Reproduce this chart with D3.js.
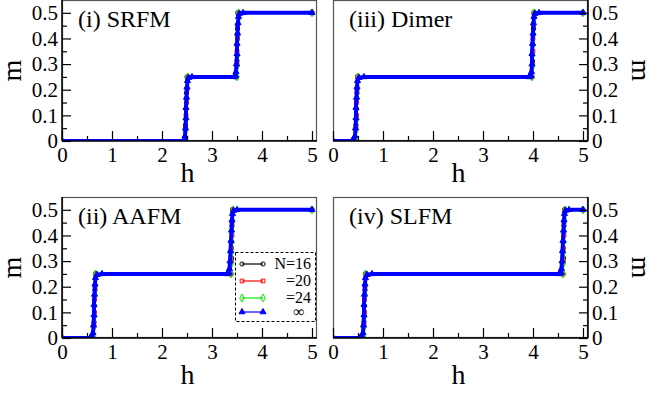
<!DOCTYPE html>
<html>
<head>
<meta charset="utf-8">
<script src="https://cdn.jsdelivr.net/npm/d3@7"></script>
<style>
  body { margin: 0; background: #fff; }
</style>
</head>
<body>
<div id="chart"></div>
<script>
// ---- data: [h, m] points ----
// (i) SRFM
const srfm16 = [[0,0],[2.46,0],[2.47,0.0625],[2.48,0.125],[2.49,0.1875],[2.5,0.25],[3.49,0.25],[3.5,0.3125],[3.5,0.375],[3.51,0.4375],[3.52,0.5],[5,0.5]];
const srfm20 = [[0,0],[2.46,0],[2.47,0.05],[2.48,0.1],[2.49,0.15],[2.5,0.2],[2.51,0.25],[3.49,0.25],[3.5,0.3],[3.5,0.35],[3.51,0.4],[3.51,0.45],[3.52,0.5],[5,0.5]];
const srfm24 = [[0,0],[2.47,0],[2.47,0.042],[2.48,0.083],[2.48,0.125],[2.49,0.167],[2.5,0.208],[2.51,0.25],[3.5,0.25],[3.5,0.292],[3.51,0.333],[3.51,0.375],[3.52,0.417],[3.52,0.458],[3.53,0.5],[5,0.5]];
const srfmInf = [[0,0],[2.42,0],[2.45,0.005],[2.46,0.02],[2.47,0.05],[2.48,0.09],[2.48,0.13],[2.49,0.17],[2.5,0.21],[2.51,0.235],[2.53,0.247],[2.6,0.25],[3.44,0.25],[3.47,0.255],[3.48,0.27],[3.49,0.3],[3.5,0.34],[3.5,0.38],[3.51,0.42],[3.52,0.46],[3.53,0.485],[3.55,0.497],[3.62,0.5],[5,0.5]];

// (iii) Dimer
const dimer16 = [[0,0],[0.45,0],[0.46,0.0625],[0.47,0.125],[0.48,0.1875],[0.49,0.25],[3.98,0.25],[3.99,0.3125],[4.0,0.375],[4.01,0.4375],[4.02,0.5],[5,0.5]];
const dimer20 = [[0,0],[0.45,0],[0.46,0.05],[0.47,0.1],[0.47,0.15],[0.48,0.2],[0.49,0.25],[3.98,0.25],[3.99,0.3],[4.0,0.35],[4.0,0.4],[4.01,0.45],[4.02,0.5],[5,0.5]];
const dimer24 = [[0,0],[0.46,0],[0.46,0.042],[0.47,0.083],[0.47,0.125],[0.48,0.167],[0.49,0.208],[0.5,0.25],[3.98,0.25],[3.99,0.292],[3.99,0.333],[4.0,0.375],[4.01,0.417],[4.01,0.458],[4.02,0.5],[5,0.5]];
const dimerInf = [[0,0],[0.38,0],[0.42,0.005],[0.44,0.02],[0.45,0.05],[0.46,0.09],[0.46,0.13],[0.47,0.17],[0.48,0.21],[0.49,0.235],[0.52,0.247],[0.62,0.25],[3.92,0.25],[3.96,0.255],[3.97,0.27],[3.98,0.3],[3.98,0.34],[3.99,0.38],[4.0,0.42],[4.01,0.46],[4.02,0.485],[4.04,0.497],[4.12,0.5],[5,0.5]];

// (ii) AAFM
const aafm16 = [[0,0],[0.63,0],[0.64,0.0625],[0.65,0.125],[0.66,0.1875],[0.67,0.25],[3.38,0.25],[3.39,0.3125],[3.39,0.375],[3.4,0.4375],[3.41,0.5],[5,0.5]];
const aafm20 = [[0,0],[0.63,0],[0.64,0.05],[0.65,0.1],[0.65,0.15],[0.66,0.2],[0.67,0.25],[3.38,0.25],[3.39,0.3],[3.39,0.35],[3.4,0.4],[3.4,0.45],[3.41,0.5],[5,0.5]];
const aafm24 = [[0,0],[0.64,0],[0.64,0.042],[0.65,0.083],[0.65,0.125],[0.66,0.167],[0.66,0.208],[0.67,0.25],[3.38,0.25],[3.39,0.292],[3.39,0.333],[3.4,0.375],[3.4,0.417],[3.41,0.458],[3.42,0.5],[5,0.5]];
const aafmInf = [[0,0],[0.56,0],[0.6,0.005],[0.62,0.02],[0.63,0.05],[0.64,0.09],[0.64,0.13],[0.65,0.17],[0.66,0.21],[0.67,0.235],[0.7,0.247],[0.8,0.25],[3.3,0.25],[3.34,0.255],[3.35,0.27],[3.36,0.3],[3.37,0.34],[3.38,0.38],[3.39,0.42],[3.4,0.46],[3.41,0.485],[3.43,0.497],[3.5,0.5],[5,0.5]];

// (iv) SLFM
const slfm16 = [[0,0],[0.61,0],[0.62,0.0625],[0.63,0.125],[0.64,0.1875],[0.65,0.25],[4.6,0.25],[4.61,0.3125],[4.61,0.375],[4.62,0.4375],[4.63,0.5],[5,0.5]];
const slfm20 = [[0,0],[0.61,0],[0.62,0.05],[0.63,0.1],[0.63,0.15],[0.64,0.2],[0.65,0.25],[4.6,0.25],[4.61,0.3],[4.61,0.35],[4.62,0.4],[4.62,0.45],[4.63,0.5],[5,0.5]];
const slfm24 = [[0,0],[0.62,0],[0.62,0.042],[0.63,0.083],[0.63,0.125],[0.64,0.167],[0.64,0.208],[0.65,0.25],[4.6,0.25],[4.61,0.292],[4.61,0.333],[4.62,0.375],[4.62,0.417],[4.63,0.458],[4.64,0.5],[5,0.5]];
const slfmInf = [[0,0],[0.54,0],[0.58,0.005],[0.6,0.02],[0.61,0.05],[0.62,0.09],[0.62,0.13],[0.63,0.17],[0.64,0.21],[0.65,0.235],[0.68,0.247],[0.78,0.25],[4.52,0.25],[4.56,0.255],[4.57,0.27],[4.58,0.3],[4.59,0.34],[4.6,0.38],[4.61,0.42],[4.62,0.46],[4.63,0.485],[4.65,0.497],[4.72,0.5],[5,0.5]];

const panelNames = ["(i) SRFM", "(iii) Dimer", "(ii) AAFM", "(iv) SLFM"];
const seriesLabels = ["N=16", "=20", "=24", "\u221e"];
const hTicks = [0, 1, 2, 3, 4, 5];
const hMinor = [0.5, 1.5, 2.5, 3.5, 4.5];
const mTicks = [0, 0.1, 0.2, 0.3, 0.4, 0.5];
const mTickLabels = ["0", "0.1", "0.2", "0.3", "0.4", "0.5"];
const mMinor = [0.05, 0.15, 0.25, 0.35, 0.45];

// ---- layout ----
const W = 658, H = 395;
const FONT = '"Liberation Serif"';
const colors = ["#000000", "#ff0000", "#00ee00", "#0000ff"];
const shapes = [d3.symbolCircle, d3.symbolSquare, d3.symbolDiamond, d3.symbolTriangle];

const panels = [
  {name: panelNames[0], series: [srfm16, srfm20, srfm24, srfmInf], x0: 62, y0: 0, side: "left", hy: 41},
  {name: panelNames[1], series: [dimer16, dimer20, dimer24, dimerInf], x0: 333, y0: 0, side: "right", hy: 41},
  {name: panelNames[2], series: [aafm16, aafm20, aafm24, aafmInf], x0: 62, y0: 197, side: "left", hy: 46, legend: true},
  {name: panelNames[3], series: [slfm16, slfm20, slfm24, slfmInf], x0: 333, y0: 197, side: "right", hy: 46}
];
const pw = 255, ph = 141;

const svg = d3.select("#chart").append("svg")
  .attr("width", W).attr("height", H);

function marker(g, i, x, y) {
  const size = [14, 14, 18, 16][i];
  g.append("path")
    .attr("d", d3.symbol(shapes[i], size)())
    .attr("transform", `translate(${x},${y})`)
    .attr("fill", i === 3 ? colors[i] : "none")
    .attr("stroke", colors[i])
    .attr("stroke-width", 1);
}

function label(g, txt, size) {
  return g.append("text").style("font-family", FONT).style("font-size", size + "px")
    .attr("fill", "#000").text(txt);
}

panels.forEach((p, pi) => {
  const x = d3.scaleLinear().domain([0, 5.1]).range([0, pw]);
  const y = d3.scaleLinear().domain([0, 0.55]).range([ph, 0]);
  const g = svg.append("g").attr("transform", `translate(${p.x0},${p.y0})`);

  g.append("clipPath").attr("id", "clip" + pi)
    .append("rect").attr("width", pw).attr("height", ph);

  // frame
  g.append("rect")
    .attr("x", 0.5).attr("y", 0.5)
    .attr("width", pw - 1).attr("height", ph - 1)
    .attr("fill", "none").attr("stroke", "#555").attr("stroke-width", 1.2);

  // curves
  const plot = g.append("g").attr("clip-path", `url(#clip${pi})`);
  const line = d3.line().x(d => x(d[0])).y(d => y(d[1]));
  p.series.forEach((s, si) => {
    plot.append("path")
      .attr("d", line(s))
      .attr("fill", "none")
      .attr("stroke", colors[si])
      .attr("stroke-width", si === 3 ? 4 : 1.6)
      .attr("stroke-linejoin", "round");
    s.forEach(d => marker(plot, si, x(d[0]), y(d[1])));
  });

  // x axis
  const xg = g.append("g").attr("transform", `translate(0,${ph})`);
  xg.call(d3.axisBottom(x).tickValues(hTicks).tickSize(-10).tickPadding(6).tickFormat(d3.format("d")));
  xg.append("g").call(d3.axisBottom(x).tickValues(hMinor).tickSize(-5).tickFormat(""));
  xg.selectAll(".domain").remove();
  xg.append("line").attr("x1", 0).attr("x2", pw).attr("stroke", "#000").attr("stroke-width", 1.5);

  // y axis
  const right = p.side === "right";
  const yAxis = right ? d3.axisRight(y) : d3.axisLeft(y);
  const yMin = right ? d3.axisRight(y) : d3.axisLeft(y);
  const yg = g.append("g").attr("transform", `translate(${right ? pw : 0},0)`);
  yg.call(yAxis.tickValues(mTicks).tickSize(-9).tickPadding(4).tickFormat((d, i) => mTickLabels[i]));
  yg.append("g").call(yMin.tickValues(mMinor).tickSize(-5).tickFormat(""));
  yg.selectAll(".domain").remove();
  yg.append("line").attr("y1", 0).attr("y2", ph).attr("stroke", "#000").attr("stroke-width", 1.5);

  g.selectAll(".tick line").attr("stroke", "#000").attr("stroke-width", 1.2);
  g.selectAll(".tick text")
    .style("font-family", FONT).style("font-size", "21px").attr("fill", "#000");

  // titles
  label(g, p.name, 24).attr("x", 16).attr("y", 27);

  label(g, "h", 28)
    .attr("x", pw / 2 - 2).attr("y", ph + p.hy)
    .attr("text-anchor", "middle");

  label(g, "m", 28)
    .attr("transform", right
      ? `translate(${pw + 44},${ph / 2}) rotate(90)`
      : `translate(${-41},${ph / 2}) rotate(-90)`)
    .attr("text-anchor", "middle");

  // legend
  if (p.legend) {
    const lg = g.append("g").attr("transform", `translate(173,55)`);
    lg.append("rect")
      .attr("x", 0.5).attr("y", 0.5).attr("width", 80).attr("height", 69)
      .attr("fill", "#fff").attr("stroke", "#000").attr("stroke-dasharray", "3,2");
    const rows = [12, 29, 46, 60];
    seriesLabels.forEach((lab, i) => {
      lg.append("line").attr("x1", 7).attr("x2", 28).attr("y1", rows[i]).attr("y2", rows[i])
        .attr("stroke", colors[i]).attr("stroke-width", 1.2);
      marker(lg, i, 7, rows[i]);
      marker(lg, i, 28, rows[i]);
      label(lg, lab, 16)
        .attr("x", i === 3 ? 64 : 76).attr("y", rows[i] + 5)
        .attr("text-anchor", i === 3 ? "middle" : "end");
    });
  }
});
</script>
</body>
</html>
